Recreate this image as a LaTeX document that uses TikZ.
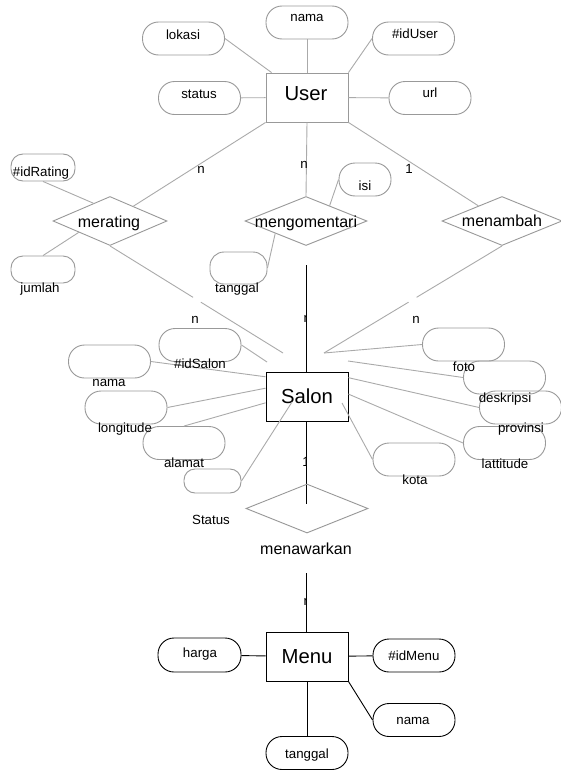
\documentclass[tikz,border=0pt]{standalone}
\usepackage{fontspec}
\setmainfont{Liberation Sans}
\usetikzlibrary{shapes.geometric,calc}
\definecolor{lg}{HTML}{AAAAAA}
\definecolor{bgr}{HTML}{999999}
\newcommand\attrsize{\fontsize{13.3}{15}\selectfont}
\newcommand\relsize{\fontsize{16}{19}\selectfont}
\newcommand\entsize{\fontsize{20.3}{24}\selectfont}
\begin{document}
\begin{tikzpicture}[x=1pt,y=-1pt,
  ent/.style={draw, rectangle, minimum width=82pt, minimum height=49pt, inner sep=0pt, line width=0.9pt},
  pill/.style={draw, rectangle, rounded corners=16pt, minimum width=82pt, minimum height=33pt, inner sep=0pt, line width=0.9pt},
  gpill/.style={pill, draw=bgr},
  rel/.style={draw=bgr, diamond, minimum width=122pt, minimum height=49pt, inner sep=0pt, line width=0.9pt},
  gl/.style={draw=lg, line width=0.9pt},
  bl/.style={draw=black, line width=0.9pt},
  vl/.style={draw=black, line width=1pt},
  txt/.style={inner sep=0pt, anchor=base, font=\attrsize},
  rtxt/.style={txt, font=\relsize},
  etxt/.style={txt, font=\entsize}]
\useasboundingbox[fill=white] (0,0) rectangle (561,771);

% ---------------- User ----------------
\node[ent, draw=bgr] (user) at (307,97.5) {};
\node[gpill] (unama) at (307,22.5) {};
\node[gpill] (lokasi) at (183.5,38.5) {};
\node[gpill] (iduser) at (413.5,38.5) {};
\node[gpill] (ustatus) at (199.5,98) {};
\node[gpill] (url) at (430,98) {};
\node[txt] (t-unama) at (307,21) {nama};
\node[txt] (t-lokasi) at (183,39) {lokasi};
\node[txt] (t-iduser) at (415,38) {\#idUser};
\node[txt] (t-ustatus) at (199,98) {status};
\node[txt] (t-url) at (430,97) {url};
\node[etxt] (t-user) at (306,100) {User};
\draw[gl] (lokasi.east) -- ($(user.north west)+(6,0)$);
\draw[gl] (unama) -- (user);
\draw[gl] (iduser.west) -- (user.north east);
\draw[gl] (ustatus) -- (user);
\draw[gl] (user) -- (url);

% ---------------- relationships ----------------
\node[rel, minimum width=114pt] (merating) at (110,221) {};
\node[rel] (mengo) at (306,221) {};
\node[rel, minimum width=120pt] (menambah) at (502,221) {};
\node[rtxt] (t-merating) at (109,227) {merating};
\node[rtxt] (t-mengo) at (306,227) {mengomentari};
\node[rtxt] (t-menambah) at (502,226) {menambah};
\draw[gl] (user.south west) -- (merating);
\draw[gl] (user.south) -- (mengo.north);
\draw[gl] (user.south east) -- (menambah);
\node[txt] (c1) at (201,173) {n};
\node[txt] (c2) at (304,168) {n};
\node[txt] (c3) at (409,173) {1};

\node[gpill, minimum width=64pt, minimum height=27pt, rounded corners=12pt] (idrating) at (43,167.5) {};
\node[txt] (t-idrating) at (41,176) {\#idRating};
\draw[gl] (idrating.south) -- (merating.133);
\node[gpill, minimum width=64pt, minimum height=27pt, rounded corners=12pt] (jumlah) at (43,269.5) {};
\node[txt] (t-jumlah) at (40,292) {jumlah};
\draw[gl] (merating.200) -- (jumlah.north);
\node[gpill, minimum width=52pt] (isi) at (365,179.5) {};
\node[txt] (t-isi) at (365,190) {isi};
\draw[gl] (isi.west) -- (mengo.33);
\node[gpill, minimum width=57pt, minimum height=32pt, rounded corners=14pt] (rtanggal) at (238.5,268) {};
\node[txt] (t-rtanggal) at (237,292) {tanggal};
\draw[gl] (mengo.202) -- (rtanggal.east);

% lines towards Salon (broken)
\coordinate (mrend) at (283,353);
\coordinate (mnend) at (324,353);
\draw[gl] (merating.south) -- ($(merating.south)!0.48!(mrend)$)
          ($(merating.south)!0.525!(mrend)$) -- (mrend);
\draw[gl] (menambah.south) -- ($(menambah.south)!0.48!(mnend)$)
          ($(menambah.south)!0.525!(mnend)$) -- (mnend);
\node[txt] (c4) at (195,323) {n};
\node[txt] (c6) at (416,323) {n};

% labels half hidden under the vertical line
\begin{scope}
  \clip (290,300) rectangle (306.3,620);
  \node[txt] (c5) at (307.2,322) {n};
  \node[txt] (c7) at (306,466) {1};
  \node[txt] (c8) at (307.2,605) {n};
\end{scope}

% black vertical line
\coordinate (vtop) at (306.7,265);
\coordinate (vbot) at (306.7,504);
\draw[vl] (vtop) -- (vbot);

% ---------------- Salon ----------------
\node[ent, fill=white] (salon) at (307,397) {};
\node[etxt] (t-salon) at (307,403) {Salon};
\node[gpill] (idsalon) at (200,345) {};
\node[gpill] (snama) at (109.5,361.5) {};
\node[gpill] (longitude) at (126,407.5) {};
\node[gpill] (alamat) at (184,443) {};
\node[gpill] (foto) at (463.5,344.5) {};
\node[gpill] (desk) at (504.5,377.5) {};
\node[gpill] (prov) at (520.5,407.5) {};
\node[gpill] (latt) at (504.5,443) {};
\node[gpill] (kota) at (414,459.5) {};
\node[gpill, minimum width=57pt, minimum height=24pt, rounded corners=11pt] (sstatus) at (212.5,481) {};
\coordinate (s1) at (267,362);
\coordinate (st1) at (292,402);
\coordinate (dend) at (348,361);
\coordinate (kend) at (342,403);
\draw[gl] (idsalon.east) -- (s1);
\draw[gl] (snama.east) -- (salon.154);
\draw[gl] (longitude.east) -- (salon.168);
\draw[gl] (alamat.north) -- (salon.188);
\draw[gl] (st1) -- (sstatus.east);
\draw[gl] (foto.west) -- (mnend);
\draw[gl] (desk.west) -- (dend);
\draw[gl] (prov.west) -- (salon.25);
\draw[gl] (latt.west) -- (salon.4);
\draw[gl] (kota.west) -- (kend);
\node[txt] (t-idsalon) at (200,368) {\#idSalon};
\node[txt] (t-snama) at (109,386) {nama};
\node[txt] (t-longitude) at (125,432) {longitude};
\node[txt] (t-alamat) at (184,467) {alamat};
\node[txt] (t-foto) at (464,371) {foto};
\node[txt] (t-desk) at (505,402) {deskripsi};
\node[txt] (t-prov) at (521,432) {provinsi};
\node[txt] (t-latt) at (505,468) {lattitude};
\node[txt] (t-kota) at (415,484) {kota};
\node[txt] (t-sstatus) at (211,524) {Status};

% ---------------- menawarkan ----------------
\node[rel] (menawarkan) at (307,508.5) {};
\node[rtxt] (t-menawarkan) at (306,554) {menawarkan};

% ---------------- Menu ----------------
\node[ent] (menu) at (307,656.5) {};
\node[etxt] (t-menu) at (307,663) {Menu};
\coordinate (vtop2) at (306.7,573);
\draw[vl] (vtop2) -- (vtop2 |- menu.north);
\node[pill, minimum width=83pt, minimum height=34pt] (harga) at (199.5,655) {};
\node[pill] (idmenu) at (414,655.5) {};
\node[pill] (mnama) at (414,720) {};
\node[pill] (mtanggal) at (307,753) {};
\node[txt] (t-harga) at (200,657) {harga};
\node[txt] (t-idmenu) at (414,660) {\#idMenu};
\node[txt] (t-mnama) at (413,724) {nama};
\node[txt] (t-mtanggal) at (307,758) {tanggal};
\draw[bl] (harga) -- (menu);
\draw[bl] (menu) -- (idmenu);
\draw[bl] (menu.south east) -- (mnama.west);
\draw[bl] (menu.south) -- (mtanggal.north);
\end{tikzpicture}
\end{document}
